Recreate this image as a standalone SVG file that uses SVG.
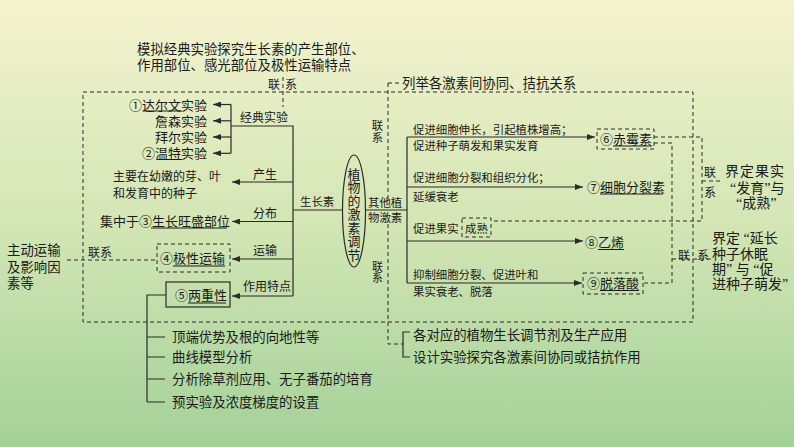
<svg xmlns="http://www.w3.org/2000/svg" width="794" height="447" viewBox="0 0 794 447">
<defs>
<linearGradient id="bg" x1="0" y1="0" x2="0" y2="1">
<stop offset="0" stop-color="#f4f3cf"/>
<stop offset="0.5" stop-color="#d3e6b4"/>
<stop offset="1" stop-color="#a3d198"/>
</linearGradient>
<marker id="ah" viewBox="0 0 8 6" refX="8" refY="3" markerWidth="8" markerHeight="6" markerUnits="userSpaceOnUse" orient="auto">
<path d="M0,0 L8,3 L0,6 z" fill="#2b2b2b"/>
</marker>
<style>
text{font-family:"Noto Sans CJK SC","Noto Sans",sans-serif;fill:#1a1a1a}
.q{font-family:"Liberation Serif",serif}
.v{writing-mode:vertical-rl}
.s{stroke:#2b2b2b;stroke-width:1.2;fill:none}
.d{stroke:#2b2b2b;stroke-width:1;fill:none;stroke-dasharray:4 3}
.a{stroke:#2b2b2b;stroke-width:1.2;fill:none;marker-end:url(#ah)}
.u{stroke:#1a1a1a;stroke-width:1}
.f11{font-size:11.4px}
.f12{font-size:12px}
.f13{font-size:13px}
.f135{font-size:13.4px}
.f14{font-size:14px}
</style>
</defs>
<rect width="794" height="447" fill="url(#bg)"/>

<g id="connectors">
<rect class="d" x="83" y="92" width="610" height="230"/>
<path class="d" d="M283,77 V107"/>
<path class="d" d="M388,83 H400 M388,83 V199 M388,224 V344 H403"/>
<path class="d" d="M67,260 H157"/>
<path class="s" d="M231,104.5 V153.3 M231,126 H293 V296"/>
<path class="a" d="M231,104.5 H213"/>
<path class="a" d="M231,120.8 H213"/>
<path class="a" d="M231,137 H213"/>
<path class="a" d="M231,153.3 H213"/>
<path class="a" d="M293,182 H232"/>
<path class="a" d="M293,221.5 H232"/>
<path class="a" d="M293,259 H232"/>
<path class="a" d="M293,296 H232"/>
<path class="s" d="M293,210 H343"/>
<path class="s" d="M365.5,210 H407 M407,137 V283"/>
<path class="a" d="M407,137 H595"/>
<path class="a" d="M407,187 H583"/>
<path class="a" d="M407,241 H583"/>
<path class="a" d="M407,283 H582"/>
<path class="s" d="M166,295 H147 V402 M147,337 H165 M147,357 H165 M147,379 H165 M147,402 H165"/>
<path class="s" d="M410,332 H403 V357 H410"/>
<path class="d" d="M654,137 H702 V221 H491"/>
<path class="d" d="M654,143 H672 V283 H643"/>
<path class="d" d="M702,181 H720"/>
<path class="d" d="M672,259 H712"/>
</g>

<g id="top-note">
<text class="f135" x="137" y="54">模拟经典实验探究生长素的产生部位、</text>
<text class="f135" x="137" y="70">作用部位、感光部位及极性运输特点</text>
<text class="f12" x="268" y="89">联</text>
<text class="f12" x="285" y="89">系</text>
</g>

<g id="classic">
<text class="f12" x="240" y="121.5">经典实验</text>
<text class="f13" x="207" y="109.5" text-anchor="end">①达尔文实验</text>
<text class="f13" x="207" y="125.8" text-anchor="end">詹森实验</text>
<text class="f13" x="207" y="142" text-anchor="end">拜尔实验</text>
<text class="f13" x="207" y="158.3" text-anchor="end">②温特实验</text>
<line class="u" x1="144" y1="111" x2="182" y2="111"/>
<line class="u" x1="157" y1="159.5" x2="182" y2="159.5"/>
</g>

<g id="produce">
<text class="f12" x="253" y="178.5">产生</text>
<text class="f12" x="113" y="181">主要在幼嫩的芽、叶</text>
<text class="f12" x="113" y="198">和发育中的种子</text>
</g>

<g id="auxin">
<text class="f11" x="300" y="206">生长素</text>
</g>

<g id="distribute">
<text class="f12" x="253" y="217.5">分布</text>
<text class="f13" x="100" y="226">集中于③生长旺盛部位</text>
<line class="u" x1="151" y1="228" x2="227" y2="228"/>
</g>

<g id="transport">
<text class="f12" x="253" y="254.5">运输</text>
<rect class="d" x="157" y="244" width="73" height="28"/>
<text class="f13" x="160" y="263">④极性运输</text>
<line class="u" x1="173" y1="266" x2="225" y2="266"/>
<text class="f12" x="88" y="256.5">联系</text>
</g>

<g id="active">
<text class="f135" x="7" y="255">主动运输</text>
<text class="f135" x="7" y="272">及影响因</text>
<text class="f135" x="7" y="288">素等</text>
</g>

<g id="twofold">
<text class="f12" x="243" y="290.5">作用特点</text>
<rect class="s" x="166" y="282" width="64" height="25"/>
<text class="f13" x="175" y="300">⑤两重性</text>
<line class="u" x1="188" y1="303" x2="226" y2="303"/>
</g>

<g id="twofold-items">
<text class="f135" x="172" y="342">顶端优势及根的向地性等</text>
<text class="f135" x="172" y="362">曲线模型分析</text>
<text class="f135" x="172" y="384">分析除草剂应用、无子番茄的培育</text>
<text class="f135" x="172" y="407">预实验及浓度梯度的设置</text>
</g>

<g id="center">
<ellipse cx="354" cy="211" rx="11.5" ry="56" fill="none" stroke="#2b2b2b" stroke-width="1.2"/>
<text class="f13 v" x="354" y="167.5" letter-spacing="0.5">植物的激素调节</text>
</g>

<g id="other">
<text class="f11" x="368" y="206.5">其他植</text>
<text class="f11" x="368" y="221.5">物激素</text>
<text class="f11 v" x="377.5" y="119.5" letter-spacing="0.6">联系</text>
<text class="v" x="377.5" y="261.5" font-size="11px">联系</text>
<text class="f135" x="402" y="88">列举各激素间协同、拮抗关系</text>
</g>

<g id="gibberellin">
<text class="f11" x="413" y="134.3">促进细胞伸长，引起植株增高；</text>
<text class="f11" x="413" y="150.3">促进种子萌发和果实发育</text>
<rect class="d" x="597" y="129" width="57" height="20"/>
<text class="f13" x="600" y="143.5">⑥赤霉素</text>
<line class="u" x1="613" y1="146" x2="652" y2="146"/>
</g>

<g id="cytokinin">
<text class="f11" x="413" y="182.3">促进细胞分裂和组织分化；</text>
<text class="f11" x="413" y="200.5">延缓衰老</text>
<text class="f13" x="587" y="192">⑦细胞分裂素</text>
<line class="u" x1="600" y1="194" x2="663" y2="194"/>
</g>

<g id="ethylene">
<text class="f11" x="413" y="233.3">促进果实</text>
<rect class="d" x="462" y="218" width="29" height="19"/>
<text class="f11" x="465" y="233.3">成熟</text>
<text class="f13" x="585" y="247">⑧乙烯</text>
<line class="u" x1="598" y1="249.5" x2="624" y2="249.5"/>
</g>

<g id="aba">
<text class="f11" x="413" y="279.3">抑制细胞分裂、促进叶和</text>
<text class="f11" x="413" y="296.3">果实衰老、脱落</text>
<rect class="d" x="583" y="273" width="60" height="21"/>
<text class="f13" x="587" y="288">⑨脱落酸</text>
<line class="u" x1="600" y1="290.5" x2="639" y2="290.5"/>
</g>

<g id="fruit-note">
<text class="f12" x="704" y="176.5">联</text>
<text class="f12" x="704" y="196.5">系</text>
<text class="f14" x="725" y="175.5" letter-spacing="1">界定果实</text>
<text class="f14" x="730" y="192.5"><tspan class="q">“</tspan>发育<tspan class="q">”</tspan>与</text>
<text class="f14" x="736" y="207.5"><tspan class="q">“</tspan>成熟<tspan class="q">”</tspan></text>
</g>

<g id="seed-note">
<text class="f12" x="678" y="259.5">联</text>
<text class="f12" x="697" y="259.5">系</text>
<text class="f14" x="712" y="242.5">界定<tspan class="q"> “</tspan>延长</text>
<text class="f14" x="712" y="258.5">种子休眠</text>
<text class="f14" x="712" y="273.5">期<tspan class="q">” </tspan>与<tspan class="q"> “</tspan>促</text>
<text class="f14" x="712" y="288.5">进种子萌发<tspan class="q">”</tspan></text>
</g>

<g id="apply">
<text class="f135" x="413" y="340">各对应的植物生长调节剂及生产应用</text>
<text class="f135" x="413" y="362">设计实验探究各激素间协同或拮抗作用</text>
</g>
</svg>
